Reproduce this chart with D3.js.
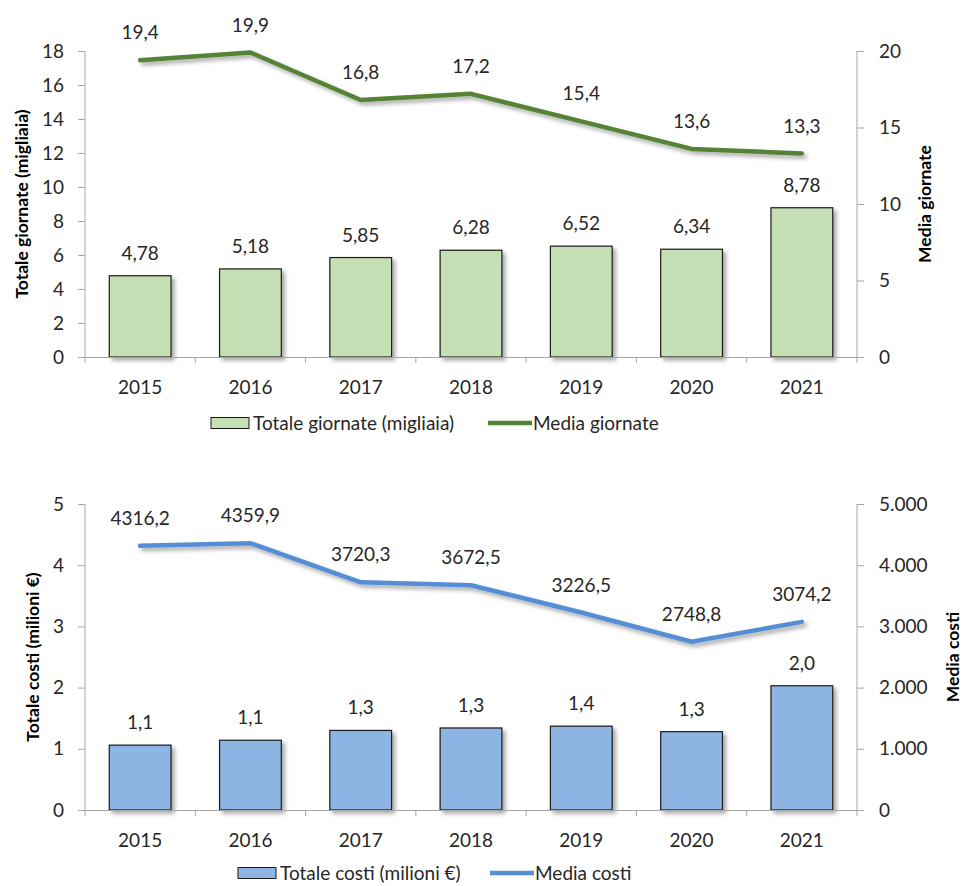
<!DOCTYPE html>
<html>
<head>
<meta charset="utf-8">
<script src="https://cdn.jsdelivr.net/npm/d3@7"></script>
<style>
  html, body { margin: 0; padding: 0; background: #fff; }
  svg { display: block; font-family: Lato, "Open Sans", sans-serif; }
  .tick text { fill: #262626; }
</style>
</head>
<body>
<svg id="chart" width="963" height="886"></svg>
<script>
// Years on the category axis
const years = [2015, 2016, 2017, 2018, 2019, 2020, 2021];

// Days: total (thousands) and average per case
const totaleGiornate = [4.78, 5.18, 5.85, 6.28, 6.52, 6.34, 8.78];
const mediaGiornate = [19.4, 19.9, 16.8, 17.2, 15.4, 13.6, 13.3];

// Costs: total (million €) and average per case (€)
const totaleCosti = [1.06, 1.14, 1.30, 1.34, 1.37, 1.28, 2.03];
const mediaCosti = [4316.2, 4359.9, 3720.3, 3672.5, 3226.5, 2748.8, 3074.2];

// Axis tick values
const ticksGiornateLeft = [0, 2, 4, 6, 8, 10, 12, 14, 16, 18];
const ticksGiornateRight = [0, 5, 10, 15, 20];
const ticksCostiLeft = [0, 1, 2, 3, 4, 5];
const ticksCostiRight = [0, 1000, 2000, 3000, 4000, 5000];

const it = d3.formatLocale({ decimal: ",", thousands: ".", grouping: [3], currency: ["€", ""] });

const svg = d3.select("#chart");
const defs = svg.append("defs");
const shadow = defs.append("filter").attr("id", "shadow")
  .attr("x", "-20%").attr("y", "-20%").attr("width", "150%").attr("height", "150%");
shadow.append("feDropShadow")
  .attr("dx", 3).attr("dy", 3).attr("stdDeviation", 2)
  .attr("flood-color", "#000").attr("flood-opacity", 0.35);

const axisColor = "#a6a6a6";
const textColor = "#262626";
const fontFamily = "Lato, 'Open Sans', sans-serif";
const fontSize = 19;

function drawPanel(p) {
  const g = svg.append("g");
  const xCat = d3.scaleBand().domain(years).range([p.left, p.right]).padding(0);
  const xBar = d3.scaleBand().domain(years).range([p.left, p.right])
    .paddingInner(0.44).paddingOuter(0.22);
  const yL = d3.scaleLinear().domain(p.leftDomain).range([p.bottom, p.top]);
  const yR = d3.scaleLinear().domain(p.rightDomain).range([p.bottom, p.top]);

  // Bars
  g.append("g").selectAll("rect").data(years).join("rect")
    .attr("x", d => xBar(d))
    .attr("width", xBar.bandwidth())
    .attr("y", (d, i) => yL(p.bars[i]))
    .attr("height", (d, i) => yL(0) - yL(p.bars[i]))
    .attr("fill", p.barFill)
    .attr("stroke", "#1a1a1a")
    .attr("stroke-width", 1.2)
    .attr("filter", "url(#shadow)");

  // Left and right value axes
  const axL = g.append("g").attr("transform", `translate(${p.left},0)`)
    .call(d3.axisLeft(yL).tickValues(p.leftTicks).tickSize(7).tickPadding(14)
      .tickFormat(it.format(p.leftFmt)));
  const axR = g.append("g").attr("transform", `translate(${p.right},0)`)
    .call(d3.axisRight(yR).tickValues(p.rightTicks).tickSize(7).tickPadding(15)
      .tickFormat(it.format(p.rightFmt)));
  [axL, axR].forEach(ax => {
    ax.select(".domain").attr("stroke", axisColor).attr("d", `M0,${p.bottom}V${p.top}`);
    ax.selectAll(".tick line").attr("stroke", axisColor);
    ax.selectAll(".tick text").attr("font-size", fontSize).attr("font-family", fontFamily);
  });

  // Category axis: baseline, boundary ticks and year labels
  const axX = g.append("g").attr("transform", `translate(0,${p.bottom})`)
    .call(d3.axisBottom(xCat).tickSize(0).tickPadding(24));
  axX.select(".domain").attr("stroke", axisColor);
  axX.selectAll(".tick text").attr("font-size", fontSize).attr("font-family", fontFamily);
  const bounds = years.map(d => xCat(d)).concat([xCat(years[years.length - 1]) + xCat.step()]);
  axX.selectAll(".bound").data(bounds).join("line").attr("class", "bound")
    .attr("x1", d => d).attr("x2", d => d).attr("y1", 0).attr("y2", 6)
    .attr("stroke", axisColor);

  // Line
  const cx = d => xCat(d) + xCat.bandwidth() / 2;
  const line = d3.line().x((d, i) => cx(years[i])).y(d => yR(d));
  g.append("path").datum(p.line)
    .attr("d", line)
    .attr("fill", "none")
    .attr("stroke", p.lineColor)
    .attr("stroke-width", 4.5)
    .attr("stroke-linecap", "round")
    .attr("stroke-linejoin", "round")
    .attr("filter", "url(#shadow)");

  // Value labels
  g.append("g").selectAll("text").data(p.bars).join("text")
    .attr("x", (d, i) => cx(years[i]))
    .attr("y", d => yL(d) - 16)
    .attr("text-anchor", "middle")
    .attr("font-size", fontSize)
    .attr("fill", textColor)
    .text(d => it.format(p.barFmt)(d));
  g.append("g").selectAll("text").data(p.line).join("text")
    .attr("x", (d, i) => cx(years[i]))
    .attr("y", d => yR(d) - 21)
    .attr("text-anchor", "middle")
    .attr("font-size", fontSize)
    .attr("fill", textColor)
    .text(d => it.format(p.lineFmt)(d));

  // Axis titles
  const mid = (p.top + p.bottom) / 2;
  g.append("text")
    .attr("transform", `translate(${p.leftTitleX},${mid}) rotate(-90)`)
    .attr("text-anchor", "middle").attr("dy", "0.35em")
    .attr("font-size", 17.5).attr("font-weight", "bold").attr("fill", "#000")
    .text(p.leftTitle);
  g.append("text")
    .attr("transform", `translate(${p.rightTitleX},${mid}) rotate(-90)`)
    .attr("text-anchor", "middle").attr("dy", "0.35em")
    .attr("font-size", 17.5).attr("font-weight", "bold").attr("fill", "#000")
    .text(p.rightTitle);

  // Legend
  const lg = g.append("g").attr("transform", `translate(0,${p.legendY})`);
  lg.append("rect").attr("x", p.legendX).attr("y", -5.5).attr("width", 38).attr("height", 11)
    .attr("fill", p.barFill).attr("stroke", "#1a1a1a").attr("stroke-width", 1);
  lg.append("text").attr("x", p.legendX + 42).attr("dy", "0.35em")
    .attr("font-size", fontSize).attr("fill", textColor).text(p.barName);
  lg.append("line").attr("x1", p.legendX2).attr("x2", p.legendX2 + 44)
    .attr("stroke", p.lineColor).attr("stroke-width", 4.5);
  lg.append("text").attr("x", p.legendX2 + 45).attr("dy", "0.35em")
    .attr("font-size", fontSize).attr("fill", textColor).text(p.lineName);
}

drawPanel({
  left: 85, right: 857, top: 51, bottom: 357,
  leftDomain: [0, 18], rightDomain: [0, 20],
  leftTicks: ticksGiornateLeft, rightTicks: ticksGiornateRight,
  leftFmt: "d", rightFmt: "d",
  bars: totaleGiornate, line: mediaGiornate,
  barFmt: ".2f", lineFmt: ".1f",
  barFill: "#c5e0b4", lineColor: "#548235",
  leftTitle: "Totale giornate (migliaia)", rightTitle: "Media giornate",
  leftTitleX: 22, rightTitleX: 925,
  barName: "Totale giornate (migliaia)", lineName: "Media giornate",
  legendY: 423, legendX: 211, legendX2: 488
});

drawPanel({
  left: 85, right: 857, top: 504, bottom: 810,
  leftDomain: [0, 5], rightDomain: [0, 5000],
  leftTicks: ticksCostiLeft, rightTicks: ticksCostiRight,
  leftFmt: "d", rightFmt: ",d",
  bars: totaleCosti, line: mediaCosti,
  barFmt: ".1f", lineFmt: ".1f",
  barFill: "#8eb4e3", lineColor: "#558ed5",
  leftTitle: "Totale costi (milioni €)", rightTitle: "Media costi",
  leftTitleX: 33, rightTitleX: 953,
  barName: "Totale costi (milioni €)", lineName: "Media costi",
  legendY: 873, legendX: 238, legendX2: 490
});
</script>
</body>
</html>
